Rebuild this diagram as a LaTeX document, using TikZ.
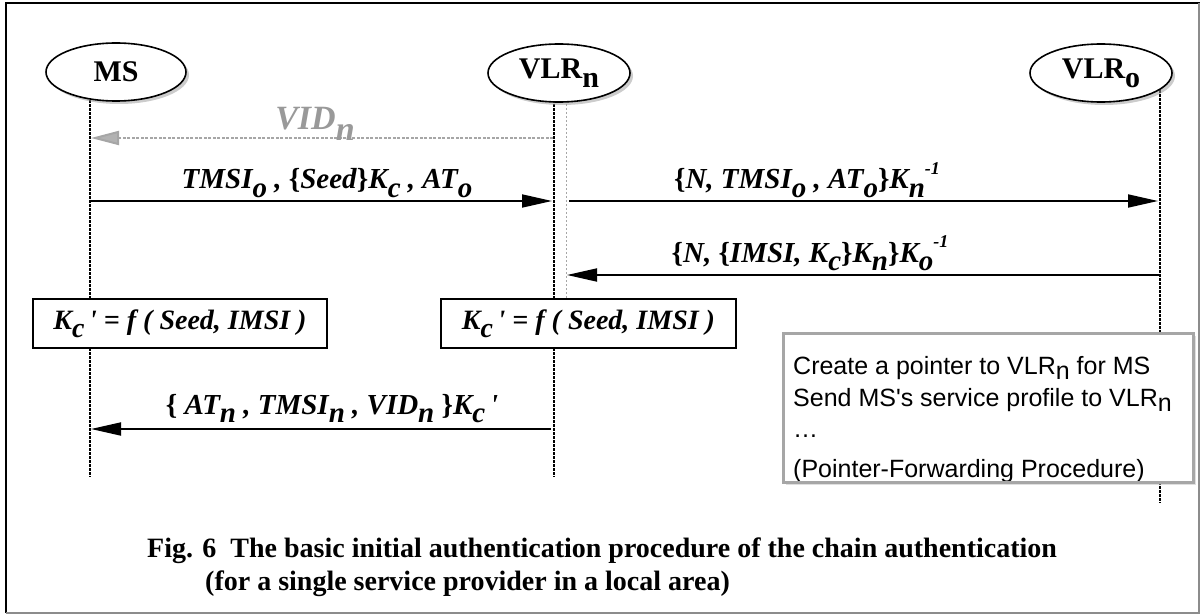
\documentclass[tikz,border=0pt]{standalone}
\usepackage{fontspec}
\usepackage{graphicx}
\setmainfont{Liberation Serif}
\newfontfamily\arialfont{Liberation Sans}
\usetikzlibrary{arrows.meta,shapes.geometric,shadows}

% lowered subscript and raised superscript for protocol labels
\newcommand\lo[1]{\raisebox{-0.3em}{#1}}
\newcommand\slo[1]{\raisebox{-0.2em}{#1}}
\newcommand\hi[1]{\raisebox{0.5em}{\scalebox{0.62}{#1}}}
\newcommand\lb{\textup{\{}}
\newcommand\rb{\textup{\}}}
\newcommand\prm{\textquotesingle}

\begin{document}
\begin{tikzpicture}[x=1pt,y=-1pt,
  actor/.style={ellipse, draw, line width=1.6pt, fill=white,
    minimum width=140pt, minimum height=58pt, inner sep=0pt,
    font=\fontsize{30}{32}\selectfont\bfseries,
    drop shadow={shadow xshift=3pt,shadow yshift=-3pt,fill=black!40}},
  life/.style={line width=2.4pt, dash pattern=on 2.6pt off 1.4pt},
  guide/.style={black!35, line width=0.6pt, dash pattern=on 2pt off 2pt},
  msg/.style={line width=1.8pt, -{Triangle[length=30pt,width=13pt]}},
  hint/.style={black!35, line width=2pt, dash pattern=on 3pt off 1.5pt,
    -{Triangle[length=28pt,width=14pt]}},
  lbl/.style={font=\fontsize{29}{31}\selectfont\bfseries\itshape,
    inner sep=0pt, anchor=base},
  keybox/.style={draw, line width=1.5pt, fill=white, minimum height=49pt,
    inner sep=0pt, font=\fontsize{28}{30}\selectfont\bfseries\itshape},
  note/.style={font=\arialfont\fontsize{25}{27}\selectfont, inner sep=0pt,
    anchor=base west},
  captext/.style={font=\fontsize{28}{30}\selectfont\bfseries, inner sep=0pt,
    anchor=base west},
]
\useasboundingbox (0,0) rectangle (1200,615);

% frame
\draw[line width=2pt] (6,613) -- (6,3) -- (1200,3);
\draw[black!45, line width=2pt] (6,613) -- (1199,613) -- (1199,3);

% lifelines
\coordinate (msT) at (90,100);  \coordinate (msB) at (90,477);
\coordinate (vnT) at (554,100); \coordinate (vnB) at (554,477);
\coordinate (voT) at (1160,90); \coordinate (voB) at (1160,503);
\coordinate (gT) at (566,104);  \coordinate (gB) at (566,300);
\draw[life] (msT) -- (msB);
\draw[life] (vnT) -- (vnB);
\draw[life] (voT) -- (voB);
\draw[guide] (gT) -- (gB);

% participants
\node[actor] (ms) at (116,72) {MS};
\node[actor, minimum width=142pt] (vn) at (559,73) {VLR\lo{n}};
\node[actor, minimum width=142pt] (vo) at (1101,73) {VLR\lo{o}};

% message end points on the lifelines
\coordinate (vidS) at (553,138); \coordinate (vidE) at (91,138);
\coordinate (aS) at (90,201);    \coordinate (aE) at (552,201);
\coordinate (bS) at (569,201);   \coordinate (bE) at (1158,201);
\coordinate (cS) at (1160,275);  \coordinate (cE) at (567,275);
\coordinate (dS) at (551,429);   \coordinate (dE) at (91,429);

% messages
\draw[hint, -{Triangle[length=28pt,width=14pt,fill=black!30]}] (vidS) -- (vidE);
\node[lbl, black!40, font=\fontsize{34}{36}\selectfont\bfseries\itshape] (vidL) at (315,130) {VID\lo{n}};

\draw[msg] (aS) -- (aE);
\node[lbl] (aL) at (327,189) {TMSI\lo{o} , \lb Seed\rb K\lo{c} , AT\lo{o}};

\draw[msg] (bS) -- (bE);
\node[lbl] (bL) at (807,189) {\lb N, TMSI\lo{o} , AT\lo{o}\rb K\lo{n}\hi{-1}};

\draw[msg] (cS) -- (cE);
\node[lbl] (cL) at (810,262) {\lb N, \lb IMSI, K\lo{c}\rb K\lo{n}\rb K\lo{o}\hi{-1}};

% session key derivation
\node[keybox, minimum width=294pt] (k1) at (180,323.5) {K\lo{c}\,\prm\ = f ( Seed, IMSI )};
\node[keybox, minimum width=295pt] (k2) at (588.5,323.5) {K\lo{c}\,\prm\ = f ( Seed, IMSI )};

\draw[msg] (dS) -- (dE);
\node[lbl] (dL) at (332,414) {\lb\ AT\lo{n} , TMSI\lo{n} , VID\lo{n} \rb K\lo{c}\,\prm};

% pointer-forwarding note
\node[draw=black!35, line width=3pt, fill=white, minimum width=410pt,
  minimum height=149pt, inner sep=0pt,
  drop shadow={shadow xshift=3pt,shadow yshift=-3pt,fill=black!25}]
  (pf) at (988,407.5) {};
\begin{scope}
  \clip (785,335) rectangle (1191,480);
  \node[note] (pf1) at (793,374) {Create a pointer to VLR\slo{n} for MS};
  \node[note] (pf2) at (793,406) {Send MS's service profile to VLR\slo{n}};
  \node[note] (pf3) at (793,437) {…};
  \node[note] (pf4) at (793,477) {(Pointer-Forwarding Procedure)};
\end{scope}

% caption
\node[captext] (cap1) at (147,557) {Fig. 6\ \ The basic initial authentication procedure of the chain authentication};
\node[captext] (cap2) at (205,590) {(for a single service provider in a local area)};
\end{tikzpicture}
\end{document}
